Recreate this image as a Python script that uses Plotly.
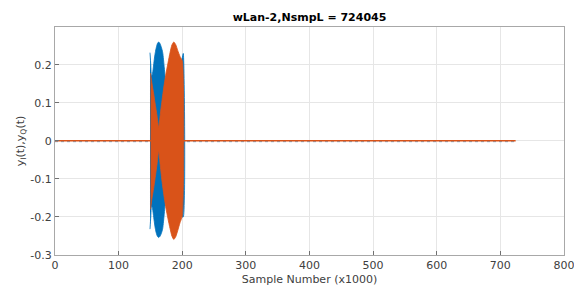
import plotly.graph_objects as go

# ---------------- data ----------------
n_samples = 724045
title_text = "wLan-2,NsmpL = 724045"

# envelope of the I (blue) burst, sample index in thousands
i_env_x = [149.3, 150.5, 151.7, 153.0, 154.5, 156.0, 157.6, 159.3, 161.0, 163.0,
           165.0, 167.2, 169.3, 171.8, 174.5, 177.6, 180.8, 183.1, 187.0,
           191.7, 196.5, 199.6, 201.6]
i_env_hi = [0.232, 0.20, 0.17, 0.175, 0.192, 0.214, 0.232, 0.246, 0.256, 0.26,
            0.256, 0.246, 0.232, 0.192, 0.14, 0.08, 0.02, 0.03, 0.09,
            0.15, 0.19, 0.215, 0.23]
i_env_lo = [-0.232, -0.20, -0.17, -0.175, -0.192, -0.212, -0.23, -0.243, -0.251, -0.254,
            -0.251, -0.243, -0.23, -0.19, -0.14, -0.08, -0.02, -0.03, -0.09,
            -0.15, -0.18, -0.20, -0.20]

# envelope of the Q (orange) burst
q_env_x = [150.1, 152.5, 155.0, 157.2, 160.5, 163.0, 165.5, 168.5, 171.8, 174.5,
           177.6, 180.8, 183.7, 186.7, 189.8, 192.9, 196.5, 200.1]
q_env_hi = [0.178, 0.15, 0.125, 0.10, 0.065, 0.035, 0.07, 0.11, 0.15, 0.178,
            0.205, 0.232, 0.252, 0.26, 0.253, 0.238, 0.222, 0.21]
q_env_lo = [-0.18, -0.15, -0.125, -0.10, -0.06, -0.026, -0.065, -0.11, -0.15, -0.178,
            -0.205, -0.23, -0.25, -0.259, -0.252, -0.236, -0.215, -0.197]

# low-level noise floor outside the burst
base_x = [0, n_samples / 1000]
i_base = [-0.002, -0.002]
q_base = [0.0004, 0.0004]

x_ticks = [0, 100, 200, 300, 400, 500, 600, 700, 800]
y_ticks = [-0.3, -0.2, -0.1, 0, 0.1, 0.2]
y_tick_text = ["-0.3", "-0.2", "-0.1", "0", "0.1", "0.2"]

BLUE = "#0072BD"
ORANGE = "#D95319"

fig = go.Figure()

fig.add_trace(go.Scatter(x=base_x, y=i_base, mode="lines",
                         line=dict(color=BLUE, width=1, dash="dot"), opacity=0.6,
                         showlegend=False, hoverinfo="skip"))
fig.add_trace(go.Scatter(x=i_env_x + i_env_x[::-1], y=i_env_hi + i_env_lo[::-1],
                         mode="lines", fill="toself", fillcolor=BLUE,
                         line=dict(color=BLUE, width=0.8, shape="spline", smoothing=0.6),
                         showlegend=False, hoverinfo="skip"))
fig.add_trace(go.Scatter(x=base_x, y=q_base, mode="lines",
                         line=dict(color=ORANGE, width=1.6),
                         showlegend=False, hoverinfo="skip"))
fig.add_trace(go.Scatter(x=q_env_x + q_env_x[::-1], y=q_env_hi + q_env_lo[::-1],
                         mode="lines", fill="toself", fillcolor=ORANGE,
                         line=dict(color=ORANGE, width=0.8, shape="spline", smoothing=0.6),
                         showlegend=False, hoverinfo="skip"))

FONT = "DejaVu Sans"
TICKC = "#404040"

fig.update_layout(
    width=574, height=288,
    margin=dict(l=55, r=10, t=27, b=33),
    paper_bgcolor="white", plot_bgcolor="white",
    font=dict(family=FONT, size=11, color=TICKC),
    title=dict(text="<b>" + title_text + "</b>", x=0.5, xref="paper",
               y=1 - 17 / 288, yref="container", yanchor="middle",
               font=dict(family=FONT, size=11, color="#000000")),
    xaxis=dict(range=[0, 800.05], tickvals=x_ticks, showgrid=True, automargin=False,
               ticklabeloverflow="allow",
               gridcolor="#e6e6e6", gridwidth=1, zeroline=False,
               showline=True, linecolor="#a8a8a8", linewidth=1, mirror=True,
               ticks="inside", ticklen=4, tickcolor="#707070",
               tickfont=dict(family=FONT, size=11, color=TICKC),
               title=dict(text="Sample Number (x1000)", standoff=4,
                          font=dict(family=FONT, size=11, color=TICKC))),
    yaxis=dict(range=[-0.3, 0.2995], tickvals=y_ticks, ticktext=y_tick_text,
               showgrid=True, gridcolor="#e6e6e6", gridwidth=1, zeroline=False,
               automargin=False,
               showline=True, linecolor="#a8a8a8", linewidth=1, mirror=True,
               ticks="inside", ticklen=4, tickcolor="#707070",
               tickfont=dict(family=FONT, size=11, color=TICKC),
               title=dict(text="y<sub>I</sub>(t),y<sub>Q</sub>(t)", standoff=3,
                          font=dict(family=FONT, size=11, color=TICKC))),
)

fig.write_html("out.html", config={"displayModeBar": False},
               post_script="document.body.style.margin='0';document.body.style.padding='0';")
